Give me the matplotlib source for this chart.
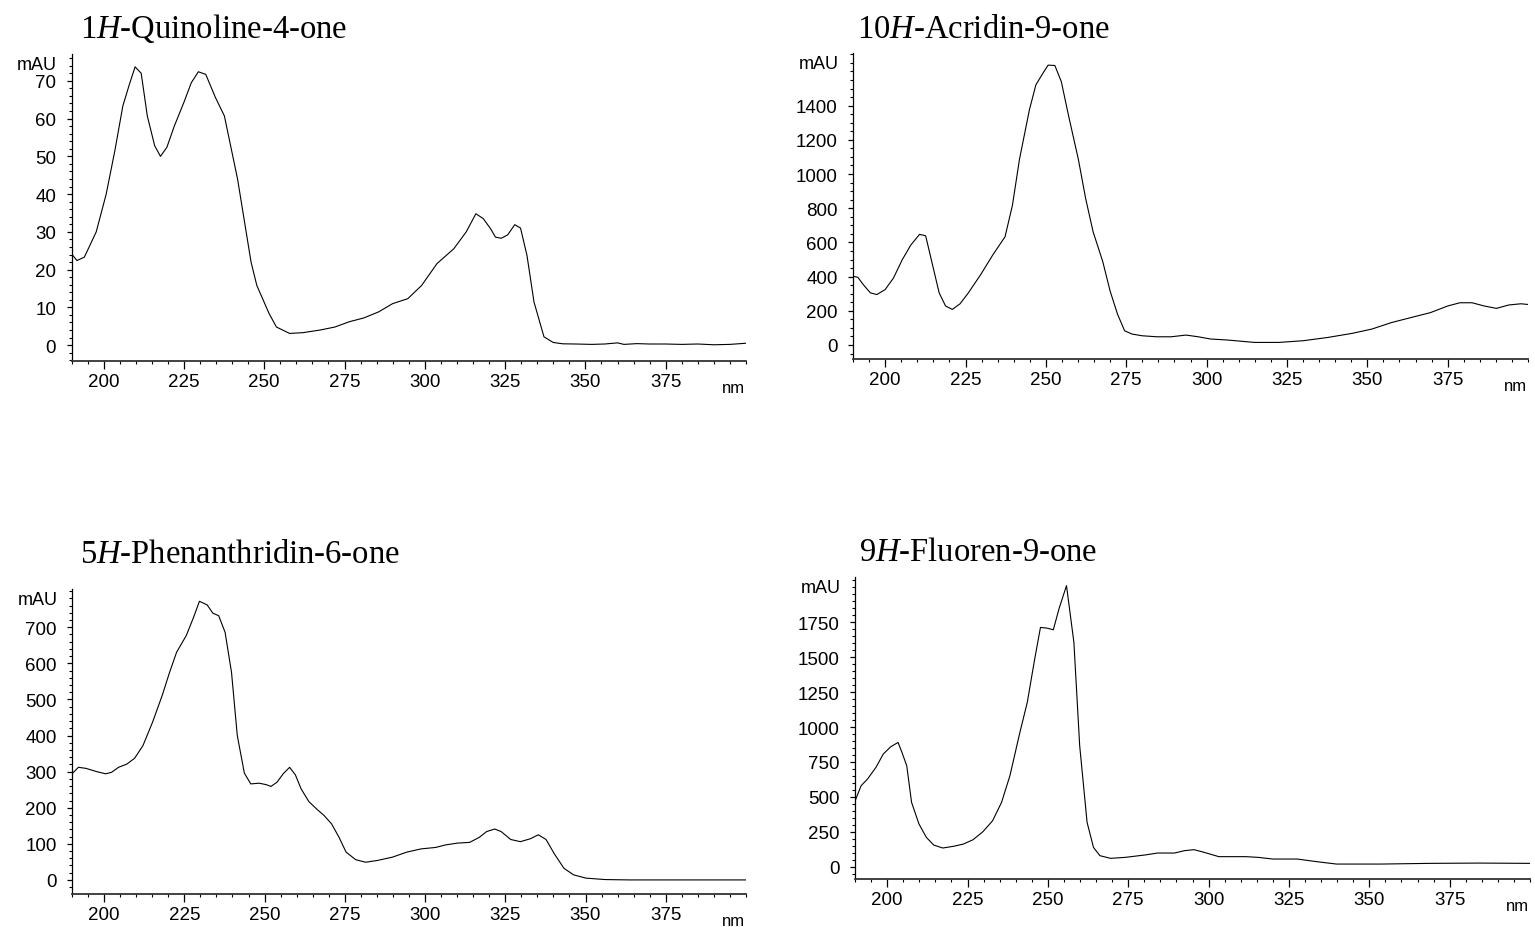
import numpy as np
import matplotlib
matplotlib.use("Agg")
import matplotlib.pyplot as plt
from matplotlib.ticker import MultipleLocator

plt.rcParams['font.family'] = ['Liberation Sans', 'DejaVu Sans']
plt.rcParams['mathtext.fontset'] = 'custom'
plt.rcParams['mathtext.rm'] = 'Liberation Serif'
plt.rcParams['mathtext.it'] = 'Liberation Serif:italic'

# UV spectra (wavelength nm, absorbance mAU)
quin_nm = [190, 191.7, 194, 197.7, 200.8, 203.5, 206, 208, 209.8, 211.7, 213.6,
           215.9, 217.7, 219.7, 222, 225, 227.3, 229.5, 231.8, 234.8, 237.6,
           241.7, 245.9, 247.7, 251.5, 253.8, 257.9, 262, 267.4, 272, 276.5,
           281, 285.6, 290, 294.7, 299, 303.8, 309, 312.9, 315.9, 318.2, 320.5,
           322, 323.8, 325.8, 328, 329.8, 331.8, 334, 337.1, 340, 343, 347,
           352, 356, 360, 362, 366, 370, 375, 380, 385, 390, 395, 400]
quin_mau = [24.2, 22.4, 23.3, 30, 40, 51.5, 63.4, 69, 73.7, 72, 60.7,
            52.8, 50, 52.4, 58, 64.3, 69.5, 72.4, 71.7, 65.6, 60.7,
            44, 22, 15.8, 8.4, 4.8, 3.1, 3.3, 4.0, 4.8, 6.2,
            7.2, 8.8, 11, 12.3, 15.8, 21.6, 25.5, 30, 34.8, 33.5, 30.8,
            28.6, 28.3, 29.2, 31.9, 31, 23.8, 11.4, 2.2, 0.7, 0.35, 0.3,
            0.2, 0.3, 0.6, 0.2, 0.4, 0.3, 0.3, 0.2, 0.3, 0.1, 0.2, 0.5]

acr_nm = [190, 191.5, 193.2, 195.4, 197.4, 200, 202.6, 205.3, 208, 210.7,
          212.6, 214.5, 216.8, 218.8, 220.9, 223.3, 225.9, 229.7, 233.5,
          237.3, 239.6, 241.8, 244.9, 246.9, 249.2, 250.7, 252.8, 254.8,
          257.1, 260.1, 262.4, 264.7, 267.7, 270, 272.3, 274.5, 276.8, 279.9,
          284.5, 289, 293.6, 297.4, 301.2, 306.5, 314.9, 322.5, 330.1, 337.7,
          345.3, 351.4, 357.5, 363.5, 369.6, 375, 378.8, 382.6, 386.4, 390.2,
          394, 397.8, 400]
acr_mau = [402, 396, 353, 305, 295, 324, 392, 498, 585, 647,
           639, 488, 305, 228, 208, 241, 305, 411, 527,
           633, 817, 1087, 1377, 1522, 1593, 1637, 1635, 1541,
           1338, 1087, 855, 662, 488, 315, 180, 83, 64, 54,
           48, 48, 58, 48, 35, 29, 15, 15, 25, 44,
           68, 93, 131, 160, 189, 228, 247, 247, 228, 214,
           234, 241, 237]

phen_nm = [190, 192, 194.4, 197.7, 200.5, 202.3, 204.5, 207.1, 209.5, 212.1,
           215.1, 218.1, 220.4, 222.6, 225.6, 227.9, 229.7, 232.1, 233.9,
           235.7, 237.7, 239.7, 241.5, 243.7, 245.7, 248.3, 250.5, 252, 253.9,
           255.8, 257.8, 259.6, 261.4, 263.8, 266.4, 268.6, 270.9, 273.2,
           275.4, 278.4, 281.5, 285.2, 289.8, 294.3, 298.8, 303.3, 306.4,
           310.1, 313.9, 316.9, 319.2, 321.7, 323.7, 326.7, 329.7, 332.8,
           335.3, 337.7, 340.3, 343.3, 346.3, 350.1, 356.1, 363.7, 380, 400]
phen_mau = [294, 312, 309, 300, 294, 298, 312, 321, 337, 372,
            437, 511, 575, 631, 677, 728, 772, 762, 739,
            732, 686, 575, 400, 296, 266, 268, 264, 259, 271,
            294, 312, 291, 252, 217, 195, 178, 155, 118,
            77, 56, 49, 54, 63, 77, 86, 90, 97,
            102, 104, 118, 134, 141, 134, 112, 106, 114,
            125, 112, 72, 32, 14, 5, 1, 0, 0, 0]

fluo_nm = [190, 191.9, 193.9, 196.5, 198.8, 201.1, 203.4, 204.6, 206.1, 207.6,
           209.9, 212.2, 214.5, 217.3, 220.6, 223.7, 226.7, 229.8, 232.8,
           235.6, 238.2, 241.3, 243.6, 245.9, 247.7, 249.7, 251.7, 253.5,
           255.8, 258.1, 259.9, 262.2, 264.2, 266.2, 269.5, 274.1, 280.2,
           284.1, 289.4, 292.5, 295.5, 298.6, 303.2, 311.6, 315.4, 320, 327.6,
           333.7, 339.8, 353.6, 368.9, 384.2, 400]
fluo_mau = [470, 580, 628, 711, 807, 859, 890, 819, 723, 461,
            306, 210, 155, 134, 146, 162, 193, 251, 329,
            461, 652, 962, 1177, 1487, 1714, 1709, 1697, 1850,
            2013, 1607, 867, 318, 138, 79, 60, 67, 84,
            98, 98, 115, 122, 103, 72, 72, 67, 55, 55,
            36, 19, 19, 24, 26, 24]

titles = [r'1$\mathit{H}$-Quinoline-4-one', r'10$\mathit{H}$-Acridin-9-one',
          r'5$\mathit{H}$-Phenanthridin-6-one', r'9$\mathit{H}$-Fluoren-9-one']

W, H = 1535, 928
fig = plt.figure(figsize=(W / 100, H / 100), dpi=100)


def make_panel(box, x, y, ylim, major, minor, ymax_tick, title, title_off):
    left, right, bottom, top = box
    ax = fig.add_axes([left / W, 1 - bottom / H, (right - left) / W, (bottom - top) / H])
    ax.plot(x, y, color='black', lw=0.8)
    ax.set_xlim(190, 400)
    ax.set_ylim(*ylim)
    ax.spines['top'].set_visible(False)
    ax.spines['right'].set_visible(False)
    ax.spines['left'].set_linewidth(0.9)
    ax.spines['bottom'].set_linewidth(1.3)
    ax.spines['bottom'].set_color('#333333')

    ax.set_xticks(np.arange(200, 376, 25))
    ax.xaxis.set_minor_locator(MultipleLocator(5))
    ax.set_yticks(np.arange(0, ymax_tick + 1, major))
    ax.yaxis.set_minor_locator(MultipleLocator(minor))
    ax.tick_params(axis='x', which='major', length=5.8, width=0.9, pad=3, labelsize=13.5)
    ax.tick_params(axis='x', which='minor', length=2.5, width=0.8)
    ax.tick_params(axis='y', which='major', length=3.6, width=0.9, pad=7.5, labelsize=13.5)
    ax.tick_params(axis='y', which='minor', length=2.2, width=0.8)

    ax.annotate('mAU', xy=(0, 1), xycoords='axes fraction', xytext=(-10.5, -7.5),
                textcoords='offset points', ha='right', va='center', fontsize=13)
    ax.annotate('nm', xy=(1, 0), xycoords='axes fraction', xytext=(-1, -13.5),
                textcoords='offset points', ha='right', va='top', fontsize=12)
    ax.annotate(title, xy=(0, 1), xycoords='axes fraction', xytext=title_off,
                textcoords='offset points', ha='left', va='baseline',
                fontsize=23.5, fontfamily='Liberation Serif')
    return ax


make_panel((71.5, 746, 362, 55), quin_nm, quin_mau, (-4.2, 77.1), 10, 2, 70,
           titles[0], (6, 12.5))
make_panel((853, 1528, 360, 54), acr_nm, acr_mau, (-82, 1708), 200, 50, 1400,
           titles[1], (3, 11.5))
make_panel((72, 746, 895, 590), phen_nm, phen_mau, (-39, 806), 100, 20, 700,
           titles[2], (6, 19.5))
make_panel((855, 1530, 880, 578), fluo_nm, fluo_mau, (-88, 2075), 250, 50, 1750,
           titles[3], (3, 12.5))

fig.savefig('out.png', dpi=100)
